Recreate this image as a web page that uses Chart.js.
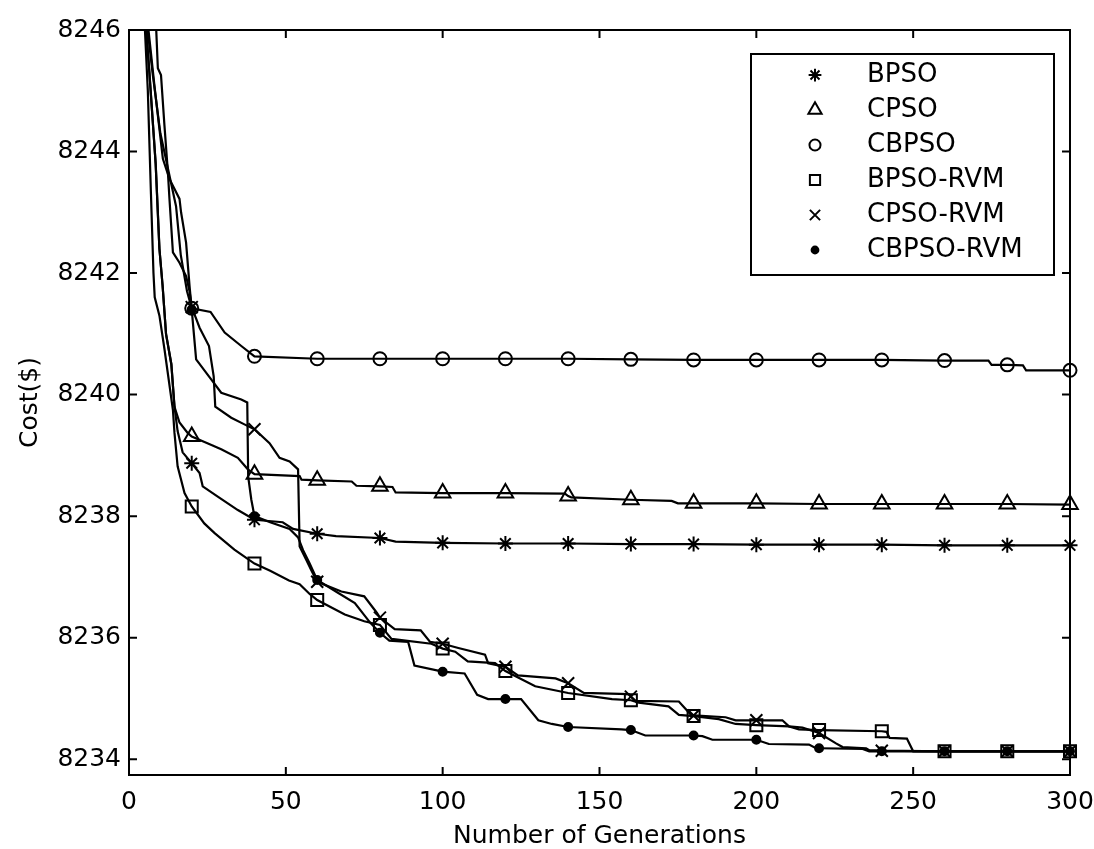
<!DOCTYPE html>
<html>
<head>
<meta charset="utf-8">
<script src="https://cdn.jsdelivr.net/npm/chart.js@4.4.1/dist/chart.umd.min.js"></script>
<style>
  html, body { margin: 0; padding: 0; background: #fff; }
</style>
</head>
<body>
<canvas id="costChart" width="1094" height="849"></canvas>
<script>
const xTicks = [0, 50, 100, 150, 200, 250, 300];
const yTicks = [8234, 8236, 8238, 8240, 8242, 8244, 8246];
const markerStep = 20;

// [generation, cost]
const bpso = [
  [1, 8258], [5.2, 8246.2], [6.5, 8245.3], [8.5, 8243.8], [9.7, 8242.4], [10.7, 8241.8], [11.8, 8241.0],
  [13.5, 8240.5], [14.5, 8239.8], [15.5, 8239.4], [17.1, 8239.05], [20, 8238.87], [22.5, 8238.71],
  [23.5, 8238.49], [28.3, 8238.32], [34.7, 8238.1], [40, 8237.94], [49, 8237.9], [52.3, 8237.79],
  [60, 8237.71], [66, 8237.67], [80, 8237.64], [85, 8237.58], [100, 8237.56], [120, 8237.55],
  [140, 8237.55], [160, 8237.54], [180, 8237.54], [200, 8237.53], [220, 8237.53], [240, 8237.53],
  [260, 8237.52], [280, 8237.52], [300, 8237.52],
];
const cpso = [
  [1, 8258], [5.2, 8246.2], [6.5, 8245.3], [8.5, 8243.8], [9.7, 8242.4], [10.7, 8241.8], [11.8, 8241.0],
  [13.5, 8240.5], [14.5, 8239.8], [16.1, 8239.54], [18.7, 8239.37], [20, 8239.31], [25, 8239.2],
  [29.4, 8239.1], [34.7, 8238.96], [37.9, 8238.77], [40, 8238.69], [54.4, 8238.66], [55, 8238.6],
  [60, 8238.59], [71, 8238.57], [72.5, 8238.5], [80, 8238.49], [84, 8238.48], [85, 8238.39],
  [100, 8238.38], [120, 8238.38], [139, 8238.37], [140, 8238.33], [141, 8238.31], [160, 8238.27],
  [173, 8238.25], [175, 8238.21], [180, 8238.21], [200, 8238.21], [220, 8238.2], [240, 8238.2],
  [260, 8238.2], [280, 8238.2], [300, 8238.19],
];
const cbpso = [
  [1, 8258], [5.5, 8246.2], [7.5, 8245.3], [10, 8244.3], [12.5, 8243.7], [15, 8243.1], [16.5, 8242.3],
  [18.5, 8241.7], [20, 8241.42], [26, 8241.36], [30.5, 8241.02], [35.8, 8240.8], [40, 8240.63],
  [60, 8240.59], [80, 8240.59], [100, 8240.59], [120, 8240.59], [140, 8240.59], [160, 8240.58],
  [180, 8240.57], [200, 8240.57], [220, 8240.57], [240, 8240.57], [260, 8240.56], [274, 8240.56],
  [275, 8240.49], [280, 8240.49], [285, 8240.48], [286, 8240.4], [300, 8240.4],
];
const bpsoRvm = [
  [1, 8262], [4.9, 8246.2], [6, 8245], [7, 8243.3], [7.8, 8242.0], [8.2, 8241.6], [9.7, 8241.3],
  [11.3, 8240.75], [14, 8239.75], [14.5, 8239.37], [15.5, 8238.82], [17.7, 8238.38], [20, 8238.16],
  [24, 8237.88], [27.3, 8237.72], [33.6, 8237.45], [40, 8237.22], [45, 8237.1], [51, 8236.94],
  [54.4, 8236.88], [57.6, 8236.72], [60, 8236.62], [68.8, 8236.38], [75, 8236.27], [80, 8236.21],
  [83.7, 8235.98], [96.4, 8235.9], [100, 8235.82], [104, 8235.77], [108, 8235.61], [116.7, 8235.58],
  [120, 8235.45], [129.5, 8235.2], [140, 8235.09], [154, 8234.99], [160, 8234.97], [162.5, 8234.93],
  [172, 8234.87], [175.3, 8234.73], [180, 8234.71], [188, 8234.66], [193.4, 8234.58], [200, 8234.56],
  [210.4, 8234.54], [213.6, 8234.49], [220, 8234.48], [240, 8234.46], [241.5, 8234.45], [242.5, 8234.35],
  [248, 8234.34], [250, 8234.13], [260, 8234.13], [280, 8234.13], [300, 8234.13],
];
const cpsoRvm = [
  [1, 8256], [8.6, 8246.1], [9.2, 8245.37], [10.2, 8245.26], [11.3, 8244.43], [12.4, 8243.66],
  [12.9, 8243.22], [14, 8242.34], [16.1, 8242.17], [18.2, 8241.95], [19.3, 8241.7], [20, 8241.44],
  [22.5, 8241.1], [25.5, 8240.8], [27, 8240.3], [27.5, 8239.8], [32.6, 8239.62], [36.8, 8239.51],
  [40, 8239.43], [44.8, 8239.2], [48, 8238.96], [51.2, 8238.9], [53.9, 8238.77], [54.4, 8237.5],
  [56.5, 8237.28], [58, 8237.12], [60, 8236.92], [67.7, 8236.76], [75, 8236.68], [79, 8236.41],
  [80, 8236.33], [84.7, 8236.14], [93, 8236.12], [96, 8235.93], [100, 8235.9], [105, 8235.83],
  [113.5, 8235.72], [114.5, 8235.58], [120, 8235.52], [124, 8235.38], [136, 8235.33], [140, 8235.25],
  [145, 8235.09], [159.3, 8235.07], [160, 8235.03], [161.5, 8234.96], [175.3, 8234.95], [179, 8234.74],
  [180, 8234.72], [190.2, 8234.69], [193.4, 8234.64], [200, 8234.64], [208.3, 8234.64], [210.4, 8234.54],
  [214.7, 8234.52], [220, 8234.43], [225.4, 8234.26], [227.5, 8234.2], [235, 8234.18], [236, 8234.15],
  [240, 8234.14], [260, 8234.13], [280, 8234.13], [300, 8234.13],
];
const cbpsoRvm = [
  [1, 8258], [6, 8246.1], [8.1, 8245.09], [10.8, 8243.88], [12.9, 8243.55], [16.1, 8243.22],
  [16.6, 8243.0], [18.2, 8242.5], [19.3, 8241.79], [20, 8241.4], [21.4, 8240.58], [26.2, 8240.25],
  [29.4, 8240.03], [35.8, 8239.92], [37.7, 8239.87], [38, 8238.65], [39, 8238.27], [40, 8238.0],
  [45, 8237.9], [51.2, 8237.79], [53.9, 8237.65], [55.5, 8237.44], [57.6, 8237.22], [60, 8236.95],
  [66.6, 8236.74], [72, 8236.57], [77, 8236.24], [80, 8236.08], [83, 8235.95], [89, 8235.93],
  [91, 8235.54], [100, 8235.44], [107, 8235.41], [111, 8235.06], [114.5, 8234.99], [120, 8234.99],
  [125, 8234.99], [130.5, 8234.64], [134.8, 8234.58], [140, 8234.53], [157, 8234.49], [160, 8234.48],
  [164.6, 8234.39], [180, 8234.39], [182.8, 8234.38], [186, 8234.32], [200, 8234.32], [204, 8234.25],
  [216.8, 8234.24], [219, 8234.18], [220, 8234.18], [233.9, 8234.17], [236, 8234.13], [240, 8234.13],
  [260, 8234.13], [280, 8234.13], [300, 8234.13],
];

const SERIES = [
  { label: 'BPSO', data: bpso, style: 'star', radius: 7.5, fill: 'rgba(0,0,0,0)' },
  { label: 'CPSO', data: cpso, style: 'triangle', radius: 9, fill: 'rgba(0,0,0,0)' },
  { label: 'CBPSO', data: cbpso, style: 'circle', radius: 6.5, fill: 'rgba(0,0,0,0)' },
  { label: 'BPSO-RVM', data: bpsoRvm, style: 'rect', radius: 8.5, fill: 'rgba(0,0,0,0)' },
  { label: 'CPSO-RVM', data: cpsoRvm, style: 'crossRot', radius: 8.5, fill: 'rgba(0,0,0,0)' },
  { label: 'CBPSO-RVM', data: cbpsoRvm, style: 'circle', radius: 4, fill: '#000' },
];

Chart.defaults.font.family = '"DejaVu Sans", sans-serif';
Chart.defaults.font.size = 25;
Chart.defaults.color = '#000';

// box round the plot with inward ticks on all four sides
const frame = {
  id: 'frame',
  afterDatasetsDraw(chart) {
    const { ctx, chartArea: a, scales } = chart;
    ctx.save();
    ctx.strokeStyle = '#000';
    ctx.lineWidth = 2;
    ctx.strokeRect(a.left, a.top, a.right - a.left, a.bottom - a.top);
    ctx.beginPath();
    scales.x.ticks.forEach(t => {
      const px = scales.x.getPixelForValue(t.value);
      ctx.moveTo(px, a.bottom); ctx.lineTo(px, a.bottom - 8);
      ctx.moveTo(px, a.top); ctx.lineTo(px, a.top + 8);
    });
    scales.y.ticks.forEach(t => {
      const py = scales.y.getPixelForValue(t.value);
      ctx.moveTo(a.left, py); ctx.lineTo(a.left + 8, py);
      ctx.moveTo(a.right, py); ctx.lineTo(a.right - 8, py);
    });
    ctx.stroke();
    ctx.restore();
  },
};

// marker-only legend in a box, top right inside the plot
const boxLegend = {
  id: 'boxLegend',
  afterDraw(chart) {
    const { ctx, chartArea: a } = chart;
    const w = 303, h = 221;
    const x0 = a.right - 16 - w, y0 = a.top + 24;
    ctx.save();
    ctx.fillStyle = '#fff';
    ctx.fillRect(x0, y0, w, h);
    ctx.strokeStyle = '#000';
    ctx.lineWidth = 2;
    ctx.strokeRect(x0, y0, w, h);
    ctx.font = '26px "DejaVu Sans"';
    ctx.textBaseline = 'middle';
    SERIES.forEach((s, i) => {
      const y = y0 + 21 + i * 35;
      ctx.fillStyle = s.fill;
      ctx.strokeStyle = '#000';
      ctx.lineWidth = 2;
      Chart.helpers.drawPoint(ctx, { pointStyle: s.style, radius: s.radius * 0.85, rotation: 0, borderWidth: 2 }, x0 + 64, y);
      ctx.fillStyle = '#000';
      ctx.fillText(s.label, x0 + 116, y);
    });
    ctx.restore();
  },
};

new Chart(document.getElementById('costChart'), {
  type: 'line',
  data: {
    datasets: SERIES.map(s => ({
      label: s.label,
      data: s.data.map(([x, y]) => ({ x, y })),
      borderColor: '#000',
      borderWidth: 2.2,
      pointStyle: s.style,
      pointRadius: c => (c.raw && c.raw.x % markerStep === 0 ? s.radius : 0),
      pointBorderColor: '#000',
      pointBackgroundColor: s.fill,
      pointBorderWidth: 2,
      tension: 0,
      clip: { left: 0, top: 0, right: false, bottom: 0 },
    })),
  },
  options: {
    responsive: false,
    animation: false,
    events: [],
    layout: { padding: { left: 0, top: 30, right: 24, bottom: 0 } },
    plugins: { legend: { display: false }, tooltip: { enabled: false } },
    scales: {
      x: {
        type: 'linear', min: 0, max: 300,
        grid: { display: false, drawTicks: false },
        border: { display: false },
        afterBuildTicks: s => { s.ticks = xTicks.map(v => ({ value: v })); },
        afterFit: s => { s.height = 74; s.paddingLeft = 0; s.paddingRight = 0; },
        ticks: { padding: 12, maxRotation: 0, autoSkip: false, callback: v => String(v) },
        title: { display: true, text: 'Number of Generations', font: { size: 25, lineHeight: 1 }, padding: { top: 0, bottom: 0 } },
      },
      y: {
        type: 'linear', min: 8233.74, max: 8246,
        grid: { display: false, drawTicks: false },
        border: { display: false },
        afterBuildTicks: s => { s.ticks = yTicks.map(v => ({ value: v })); },
        afterFit: s => { s.width = 129; s.paddingTop = 0; s.paddingBottom = 0; },
        ticks: { padding: 8, autoSkip: false, callback: v => String(v) },
        title: { display: true, text: 'Cost($)', font: { size: 25, lineHeight: 1 }, padding: { top: 18, bottom: 0 } },
      },
    },
  },
  plugins: [frame, boxLegend],
});
</script>
</body>
</html>
